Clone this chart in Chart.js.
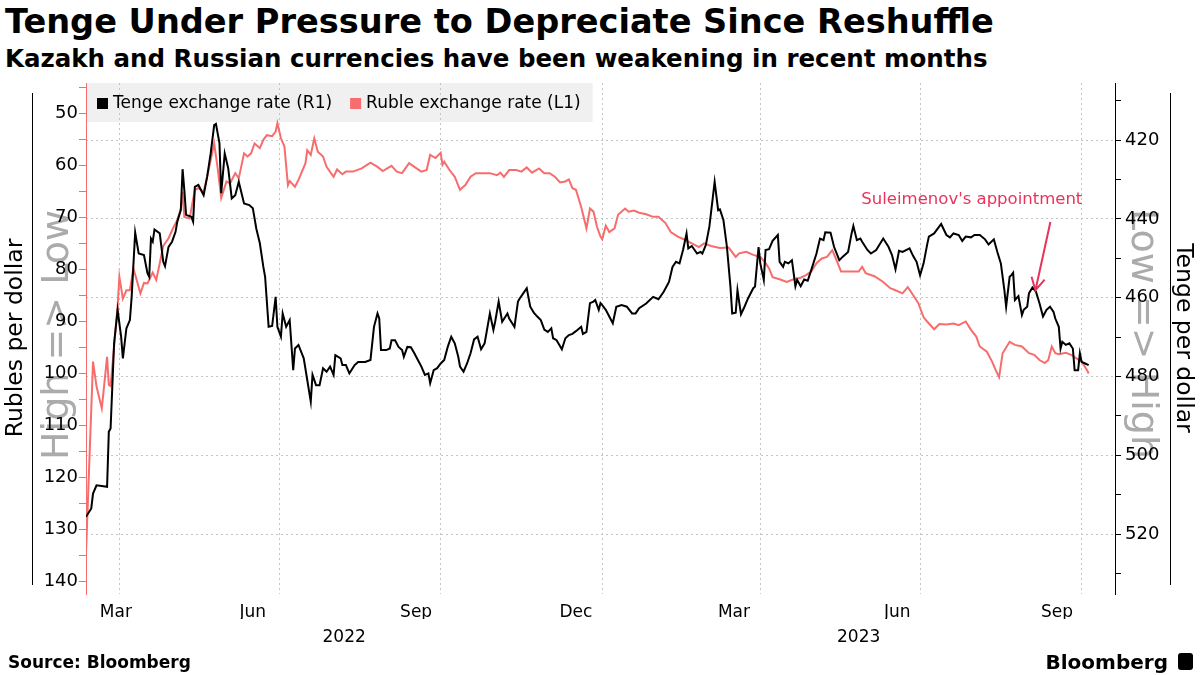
<!DOCTYPE html>
<html>
<head>
<meta charset="utf-8">
<script src="https://cdn.jsdelivr.net/npm/chart.js@4.4.0/dist/chart.umd.min.js"></script>
<style>
  html, body { margin: 0; padding: 0; background: #fff; }
  body { width: 1200px; height: 675px; position: relative; overflow: hidden; font-family: 'DejaVu Sans', sans-serif; color: #000; }
  .txt { position: absolute; white-space: nowrap; line-height: 1; font-weight: bold; }
  #title { left: 5px; top: 5px; font-size: 33.6px; }
  #subtitle { left: 5px; top: 47px; font-size: 24.5px; }
  #source { left: 8px; top: 654px; font-size: 17px; }
  #brand { right: 32px; top: 652px; font-size: 20px; }
  #brandMark { position: absolute; left: 1178px; top: 653px; width: 15px; height: 17px; background: #000; border-radius: 3px; }
  canvas { position: absolute; left: 0; top: 0; }
</style>
</head>
<body>
<div id="title" class="txt">Tenge Under Pressure to Depreciate Since Reshuffle</div>
<div id="subtitle" class="txt">Kazakh and Russian currencies have been weakening in recent months</div>
<canvas id="chart" width="1200" height="675"></canvas>
<div id="source" class="txt">Source: Bloomberg</div>
<div id="brand" class="txt">Bloomberg</div>
<div id="brandMark"></div>
<script>
// x values are days counted from 2022-03-13
const rubleDays = [0,4,6,9,12,13,14,18,19,21,23,25,27,31,33,35,38,40,42,44,
  47,50,52,54,55,56,59,62,64,67,69,73,75,77,80,82,85,87,90,92,
  94,96,99,101,103,106,108,109,111,113,115,116,119,121,125,126,128,130,132,135,
  137,141,143,146,148,152,157,162,166,169,174,177,180,184,187,191,194,196,199,202,
  203,204,207,210,213,216,219,222,226,230,234,236,238,241,245,248,251,254,258,261,
  264,267,270,273,275,277,279,282,285,287,289,291,293,294,296,298,301,303,307,309,
  312,315,319,323,326,330,333,337,341,345,349,352,356,361,366,370,372,376,380,384,
  387,389,391,395,399,403,407,410,413,416,419,422,425,427,430,434,440,442,444,449,
  454,458,461,465,468,471,474,477,479,483,486,490,494,497,501,504,507,509,513,516,
  518,520,522,526,529,533,537,540,543,546,548,550,552,554,558,561,564,567,570,571];
const rubleRates = [134.5,97.7,102.5,106.7,96.8,102.2,102.4,87.2,81.4,85.6,84.0,84.0,79.8,84.6,82.6,82.7,80.6,82.0,78.8,75.5,
  74.0,71.8,70.5,68.3,65.1,69.9,70.2,64.7,64.4,65.1,62.2,55.8,60.6,66.3,63.1,63.5,61.5,62.5,57.7,58.3,
  57.7,55.8,56.7,55.1,54.2,54.4,53.5,51.9,54.8,56.4,63.8,63.0,64.1,62.8,59.6,57.1,58.0,54.8,57.4,58.3,
  60.3,62.2,60.8,61.7,61.2,61.2,60.6,59.5,60.3,61.1,60.1,61.2,61.5,59.6,60.3,61.2,60.9,58.0,58.6,57.6,
  59.9,59.3,60.9,62.2,64.7,63.8,62.2,61.5,61.5,61.5,61.9,61.4,62.2,60.9,60.9,61.2,60.4,61.4,60.6,61.5,
  61.5,62.2,63.3,63.1,62.7,64.4,64.7,68.0,72.1,68.3,68.9,71.8,73.7,74.2,71.6,72.8,72.1,69.5,68.3,68.9,
  68.7,69.1,69.4,69.9,69.9,71.1,72.8,73.7,74.3,75.0,75.7,75.0,75.5,75.9,75.8,77.6,76.9,76.6,77.2,77.6,
  78.8,79.8,81.5,81.9,82.4,81.9,81.6,81.1,80.4,78.8,77.9,77.6,76.3,77.9,80.4,80.4,80.4,79.5,80.7,81.3,
  82.4,83.6,84.0,84.6,83.4,84.9,86.5,89.2,90.0,91.5,90.5,90.6,90.4,90.7,90.0,91.6,92.9,94.8,95.8,97.7,
  99.3,100.7,96.1,93.9,94.5,94.8,96.1,96.4,97.4,98.0,97.4,94.8,96.1,96.3,96.0,96.4,97.1,97.7,99.3,100.0];

const tengeDays = [0,3,4,6,9,12,13,14,16,18,20,21,23,25,26,28,30,33,35,36,
  37,38,39,42,44,45,47,49,51,52,54,55,56,57,60,61,62,64,67,69,
  71,73,74,76,77,79,81,83,85,87,90,93,95,97,99,101,102,104,106,108,
  109,111,112,114,116,118,119,121,124,126,128,129,131,133,135,137,139,141,142,145,
  146,148,150,153,155,159,162,164,166,167,168,171,173,174,176,178,180,181,183,185,
  187,189,191,193,195,196,198,200,202,204,206,208,210,212,213,215,217,219,221,223,
  225,227,228,230,232,233,235,237,240,241,244,246,247,249,251,253,255,257,259,261,
  263,265,266,268,271,273,275,277,279,282,283,285,287,289,290,292,293,294,296,298,
  300,302,305,308,311,313,315,319,323,326,329,332,334,336,338,340,342,343,345,348,
  350,351,353,355,357,358,360,361,363,365,367,368,370,371,373,375,377,380,381,383,
  384,386,387,389,391,394,395,397,398,400,402,404,405,407,409,411,413,416,418,420,
  421,424,426,429,431,434,436,437,439,441,442,445,447,450,454,457,459,461,463,465,
  469,471,473,475,477,479,480,483,487,490,492,494,497,499,501,504,506,509,512,514,
  517,519,521,523,524,526,527,528,529,531,533,534,536,537,539,541,543,545,547,549,
  551,552,554,555,556,558,560,562,563,565,566,567,569,571];
const tengeRates = [515.6,513.5,509.7,507.6,507.8,508.0,494.0,493.2,471.6,463.1,469.9,475.4,467.8,465.7,459.8,443.5,448.8,449.2,453.8,454.7,
  445.0,445.8,442.7,443.7,450.9,452.0,447.1,445.8,443.3,440.7,437.8,427.4,432.7,439.0,439.5,440.7,431.9,431.4,434.0,429.3,
  423.4,416.2,415.9,420.8,433.5,423.4,427.2,434.8,434.0,430.6,436.1,436.5,437.3,442.5,446.2,452.2,454.7,467.4,467.2,459.8,
  467.4,469.9,464.0,467.4,465.7,478.4,472.9,472.0,475.4,480.9,486.4,479.6,482.2,482.2,477.9,478.8,477.5,479.6,474.6,475.4,
  477.1,477.1,479.2,477.1,476.3,476.3,475.8,467.4,464.0,465.3,473.3,473.3,472.9,470.8,470.8,472.5,473.3,475.0,472.5,472.6,
  474.1,475.8,477.5,479.6,479.2,481.7,478.4,477.9,476.7,475.8,472.5,469.9,471.6,475.0,477.5,478.8,476.7,474.1,470.6,469.9,
  473.1,471.6,469.1,464.0,468.2,466.1,461.0,466.1,464.0,465.3,467.4,461.0,460.2,458.9,457.6,462.3,463.8,464.8,465.7,468.1,
  468.7,467.8,470.3,470.8,473.1,470.3,469.5,469.2,468.5,467.4,469.2,468.7,461.4,461.0,460.6,463.1,461.4,461.9,463.1,464.8,
  466.5,462.3,461.9,462.3,464.0,464.0,462.7,461.5,459.8,460.4,458.5,456.0,452.2,450.9,451.3,447.9,443.7,447.5,446.9,448.8,
  448.4,448.8,446.6,442.0,434.4,430.6,437.8,437.6,440.3,447.1,457.2,464.0,463.8,458.1,464.2,462.3,460.2,457.6,457.2,447.2,
  451.3,455.5,447.9,447.7,445.6,444.1,450.9,452.2,450.9,451.3,450.5,457.1,455.5,457.1,455.4,455.7,453.0,448.8,445.0,445.4,
  443.4,443.5,447.1,450.5,449.6,448.4,443.7,441.8,445.4,445.0,445.8,447.9,448.8,447.9,445.0,447.1,449.2,452.8,448.1,448.4,
  447.5,449.4,450.9,454.3,451.3,446.6,444.5,443.7,441.3,444.1,444.7,443.7,444.1,445.6,444.5,444.7,444.1,444.1,445.2,446.5,
  445.2,448.4,451.3,458.1,462.3,454.7,454.3,453.7,460.6,459.6,464.4,463.1,462.3,458.9,457.4,458.5,461.4,464.8,463.1,462.3,
  463.6,465.3,467.4,472.9,471.2,472.0,471.6,472.9,478.4,478.4,474.1,476.3,476.7,477.1];

const rubleTicks = [45,50,55,60,65,70,75,80,85,90,95,100,105,110,115,120,125,130,135,140];
const tengeTicks = [410,420,430,440,450,460,470,480,490,500,510,520,530];
const quarterDays = [19,110,202,294,384,475,567];          // Apr 1, Jul 1, Oct 1, Jan 1 ...
const monthDays = [17,95,188,279,369,462,553];
const monthLabels = ['Mar','Jun','Sep','Dec','Mar','Jun','Sep'];
const yearDays = [147,440];
const yearLabels = ['2022','2023'];

const RED = '#f76d6d';
const NOTE_RED = '#e8335a';

const note = {
  text: "Suleimenov's appointment",
  textDay: 567.4, textRate: 436.2,
  fromDay: 549.2, fromRate: 440.8,
  toDay: 540.7, toRate: 458.1
};

Chart.defaults.font.family = "'DejaVu Sans', sans-serif";
Chart.defaults.color = '#000';

function setTicks(values) {
  return function(scale) { scale.ticks = values.map(v => ({ value: v })); };
}

function rotatedText(ctx, text, x, y, angle) {
  ctx.save();
  ctx.translate(x, y);
  ctx.rotate(angle);
  ctx.fillText(text, 0, 0);
  ctx.restore();
}

const decor = {
  id: 'decor',
  beforeDraw(chart) {
    const ctx = chart.ctx;
    const area = chart.chartArea;
    ctx.save();

    // thin rules beside the axis titles
    ctx.strokeStyle = '#000';
    ctx.lineWidth = 1;
    ctx.beginPath();
    ctx.moveTo(32.5, 93); ctx.lineTo(32.5, 585);
    ctx.moveTo(1170.5, 93); ctx.lineTo(1170.5, 585);
    ctx.stroke();

    ctx.textAlign = 'center';
    ctx.textBaseline = 'middle';

    // High/Low watermarks
    ctx.fillStyle = '#ababab';
    ctx.font = "38px 'DejaVu Sans'";
    rotatedText(ctx, 'High => Low', 58, 335, -Math.PI / 2);
    rotatedText(ctx, 'Low => High', 1142, 334, Math.PI / 2);

    // axis titles
    ctx.fillStyle = '#000';
    ctx.font = "23.5px 'DejaVu Sans'";
    rotatedText(ctx, 'Rubles per dollar', 16, 338, -Math.PI / 2);
    rotatedText(ctx, 'Tenge per dollar', 1183, 338, Math.PI / 2);

    // legend
    ctx.font = "17px 'DejaVu Sans'";
    ctx.textAlign = 'left';
    const items = [
      { label: chart.data.datasets[0].label, color: '#000' },
      { label: chart.data.datasets[1].label, color: RED }
    ];
    let x = area.left + 11;
    const widths = items.map(it => ctx.measureText(it.label).width);
    const boxW = 11 + items.reduce((s, it, i) => s + 16 + widths[i], 0) + 18 + 12;
    ctx.fillStyle = '#f0f0f0';
    ctx.fillRect(area.left, area.top, boxW, 39);
    items.forEach((it, i) => {
      ctx.fillStyle = it.color;
      ctx.fillRect(x, area.top + 15, 11, 11);
      ctx.fillStyle = '#000';
      ctx.fillText(it.label, x + 16, area.top + 21);
      x += 16 + widths[i] + 18;
    });
    ctx.restore();
  },
  afterDatasetsDraw(chart) {
    const ctx = chart.ctx;
    const xs = chart.scales.x, ys = chart.scales.yT;
    ctx.save();
    ctx.fillStyle = NOTE_RED;
    ctx.strokeStyle = NOTE_RED;
    ctx.font = "16.5px 'DejaVu Sans'";
    ctx.textAlign = 'right';
    ctx.textBaseline = 'alphabetic';
    ctx.fillText(note.text, xs.getPixelForValue(note.textDay), ys.getPixelForValue(note.textRate));

    const x1 = xs.getPixelForValue(note.fromDay), y1 = ys.getPixelForValue(note.fromRate);
    const x2 = xs.getPixelForValue(note.toDay), y2 = ys.getPixelForValue(note.toRate);
    ctx.lineWidth = 2;
    ctx.beginPath();
    ctx.moveTo(x1, y1); ctx.lineTo(x2, y2);
    const a = Math.atan2(y2 - y1, x2 - x1);
    const head = 14, spread = 0.5;
    ctx.moveTo(x2 - head * Math.cos(a - spread), y2 - head * Math.sin(a - spread));
    ctx.lineTo(x2, y2);
    ctx.lineTo(x2 - head * Math.cos(a + spread), y2 - head * Math.sin(a + spread));
    ctx.stroke();
    ctx.restore();
  }
};

const ctx = document.getElementById('chart').getContext('2d');

new Chart(ctx, {
  type: 'line',
  data: {
    datasets: [
      {
        label: 'Tenge exchange rate (R1)',
        data: tengeDays.map((d, i) => ({ x: d, y: tengeRates[i] })),
        xAxisID: 'x',
        yAxisID: 'yT',
        borderColor: '#000',
        borderWidth: 2,
        pointRadius: 0,
        tension: 0
      },
      {
        label: 'Ruble exchange rate (L1)',
        data: rubleDays.map((d, i) => ({ x: d, y: rubleRates[i] })),
        xAxisID: 'x',
        yAxisID: 'yR',
        borderColor: RED,
        borderWidth: 2,
        pointRadius: 0,
        tension: 0
      }
    ]
  },
  options: {
    responsive: false,
    animation: false,
    devicePixelRatio: 1,
    layout: { padding: { top: 83, left: 0, right: 0, bottom: 31 } },
    plugins: {
      legend: { display: false },
      tooltip: { enabled: false }
    },
    scales: {
      x: {
        type: 'linear',
        position: 'bottom',
        weight: 0,
        min: 0,
        max: 586,
        afterBuildTicks: setTicks(quarterDays),
        afterFit: s => { s.height = 0; },
        ticks: { display: false },
        grid: { color: '#c4c4c4', drawTicks: false },
        border: { display: false, dash: [2, 3] }
      },
      xm: {
        type: 'linear',
        position: 'bottom',
        weight: 1,
        min: 0,
        max: 586,
        afterBuildTicks: setTicks(monthDays),
        afterFit: s => { s.height = 25; },
        ticks: {
          autoSkip: false,
          maxRotation: 0,
          padding: 0,
          font: { size: 17 },
          callback: v => monthLabels[monthDays.indexOf(v)]
        },
        grid: { display: false },
        border: { display: false }
      },
      xy: {
        type: 'linear',
        position: 'bottom',
        weight: 2,
        min: 0,
        max: 586,
        afterBuildTicks: setTicks(yearDays),
        afterFit: s => { s.height = 25; },
        ticks: {
          autoSkip: false,
          maxRotation: 0,
          padding: 0,
          font: { size: 17 },
          callback: v => yearLabels[yearDays.indexOf(v)]
        },
        grid: { display: false },
        border: { display: false }
      },
      yR: {
        type: 'linear',
        position: 'left',
        reverse: true,
        min: 44.18,
        max: 142.36,
        afterBuildTicks: setTicks(rubleTicks),
        afterFit: s => { s.width = 86; },
        ticks: {
          autoSkip: false,
          padding: 1,
          font: { size: 18 },
          callback: v => (v % 10 === 0 ? v : '')
        },
        grid: { drawOnChartArea: false, drawTicks: true, tickLength: 7, tickColor: RED },
        border: { display: true, color: RED, width: 1 }
      },
      yT: {
        type: 'linear',
        position: 'right',
        reverse: true,
        min: 405.53,
        max: 535.2,
        afterBuildTicks: setTicks(tengeTicks),
        afterFit: s => { s.width = 85; },
        ticks: {
          autoSkip: false,
          padding: 4,
          font: { size: 18 },
          callback: v => (v % 20 === 0 ? v : '')
        },
        grid: {
          color: c => (c.tick && c.tick.value % 20 === 0 ? '#c4c4c4' : 'rgba(0,0,0,0)'),
          tickColor: '#000',
          tickLength: 6
        },
        border: { display: true, color: '#000', width: 1, dash: [2, 3] }
      }
    }
  },
  plugins: [decor]
});
</script>
</body>
</html>
